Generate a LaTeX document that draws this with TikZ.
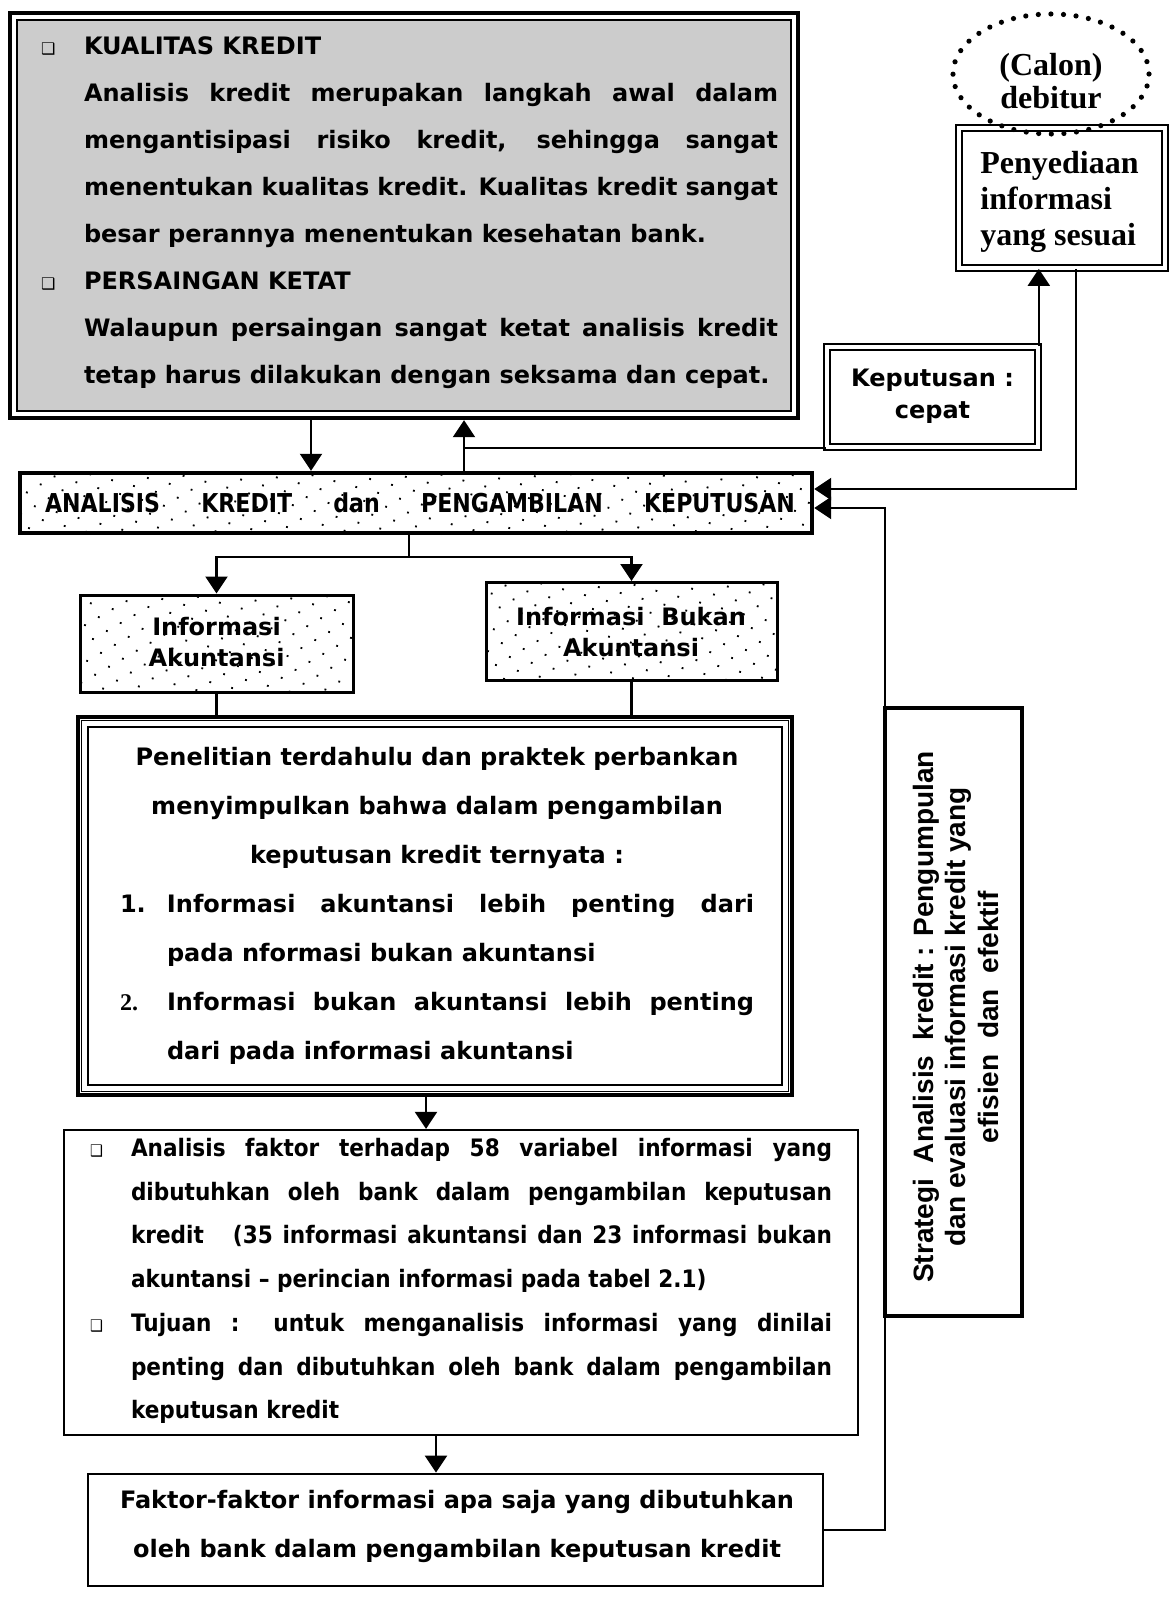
\documentclass[tikz,border=0pt]{standalone}
\usepackage{fontspec}
\setmainfont{DejaVu Sans}
\newfontfamily\tahc{DejaVu Sans}[FakeStretch=0.85]
\newfontfamily\tahn{DejaVu Sans}[FakeStretch=0.9]
\newfontfamily\arl{Liberation Sans}
\newfontfamily\tms{Liberation Serif}
\usetikzlibrary{arrows.meta,patterns.meta,shapes.geometric}
\newcommand\bul{{\fontsize{8pt}{8pt}\selectfont\mdseries ❑}}
\begin{document}
\begin{tikzpicture}[x=0.5pt,y=-0.5pt,
  font=\bfseries\fontsize{12pt}{14pt}\selectfont,
  conn/.style={line width=1.1pt},
  arr/.style={conn,-{Triangle[length=8.5pt,width=11pt]}},
  box/.style={rectangle,draw,inner sep=0pt},
  dotfill/.style={pattern={Dots[distance=8pt,radius=0.65pt,angle=30]}},
  txt/.style={inner sep=0pt,align=center}]
\fill[white] (0,0) rectangle (1172,1598);
\useasboundingbox (0,0) rectangle (1172,1598);

% ---------- boxes ----------
\node[box,line width=2.2pt,minimum width=394pt,minimum height=202.5pt] (top) at (404,215.5) {};
\draw[fill=black!20,line width=1pt] ([shift={(9,9)}]top.north west) rectangle ([shift={(-9,-9)}]top.south east);

\node[box,line width=2.2pt,minimum width=396pt,minimum height=30pt,dotfill] (ana) at (416,503) {};

\node[box,double,double distance=2pt,line width=0.8pt,minimum width=105.5pt,minimum height=50pt] (kep) at (932.5,397) {};

\node[box,double,double distance=2pt,line width=0.9pt,minimum width=103pt,minimum height=70pt] (peny) at (1062,198) {};

\node[ellipse,draw,line width=2.6pt,dash pattern=on 0pt off 6.3pt,line cap=round,minimum width=98pt,minimum height=60pt,inner sep=0pt] (deb) at (1051,74) {};

\node[box,line width=1.5pt,minimum width=136.5pt,minimum height=48.5pt,dotfill] (infoA) at (216.5,643.5) {};
\node[box,line width=1.5pt,minimum width=145.5pt,minimum height=49pt,dotfill] (infoB) at (631.5,631.5) {};

\node[box,line width=1.6pt,minimum width=357pt,minimum height=189pt] (pen) at (435,906) {};
\draw[line width=0.7pt] ([shift={(5,5)}]pen.north west) rectangle ([shift={(-5,-5)}]pen.south east);
\draw[line width=1pt] ([shift={(12,12)}]pen.north west) rectangle ([shift={(-12,-12)}]pen.south east);

\node[box,line width=1.1pt,minimum width=397pt,minimum height=152.5pt] (af) at (461,1282.5) {};

\node[box,line width=1.4pt,minimum width=367.5pt,minimum height=56pt] (fak) at (455.5,1530) {};

\node[box,line width=2.4pt,minimum width=68.5pt,minimum height=304pt] (str) at (953.5,1012) {};

% ---------- texts ----------
\node[txt] (toptxt) at (409.5,213) {\parbox{368.5pt}{\fontsize{12pt}{23.5pt}\selectfont
\makebox[21.5pt][l]{\bul}KUALITAS KREDIT\\
\hspace*{21.5pt}\makebox[347pt][s]{Analisis kredit merupakan langkah awal dalam}\\
\hspace*{21.5pt}\makebox[347pt][s]{mengantisipasi risiko kredit, sehingga sangat}\\
\hspace*{21.5pt}\makebox[347pt][s]{menentukan kualitas kredit. Kualitas kredit sangat}\\
\hspace*{21.5pt}besar perannya menentukan kesehatan bank.\\
\makebox[21.5pt][l]{\bul}PERSAINGAN KETAT\\
\hspace*{21.5pt}\makebox[347pt][s]{Walaupun persaingan sangat ketat analisis kredit}\\
\hspace*{21.5pt}tetap harus dilakukan dengan seksama dan cepat.}};

\node[txt] (anatxt) at (420,503) {\tahc\fontsize{13pt}{15pt}\selectfont\makebox[375pt][s]{ANALISIS\ \ KREDIT\ \ dan\ \ PENGAMBILAN\ \ KEPUTUSAN}};

\node[txt,font=\bfseries\fontsize{12pt}{16pt}\selectfont] (keptxt) at (932.5,396) {Keputusan :\\cepat};

\node[inner sep=0pt,align=left,anchor=west,font=\tms\bfseries\fontsize{16pt}{18pt}\selectfont] (penytxt) at (980,202) {Penyediaan\\informasi\\yang sesuai};

\node[txt,font=\tms\bfseries\fontsize{16pt}{16.5pt}\selectfont] (debtxt) at (1051,81) {(Calon)\\debitur};

\node[txt,font=\bfseries\fontsize{12pt}{15.5pt}\selectfont] (iatxt) at (216.5,642.5) {Informasi\\Akuntansi};
\node[txt,font=\bfseries\fontsize{12pt}{15.5pt}\selectfont] (ibtxt) at (631,632) {Informasi\ \ Bukan\\Akuntansi};

\node[txt] (pentxt) at (437,905.5) {\parbox{317pt}{\fontsize{12pt}{24.5pt}\selectfont
\makebox[317pt][c]{Penelitian terdahulu dan praktek perbankan}\\
\makebox[317pt][c]{menyimpulkan bahwa dalam pengambilan}\\
\makebox[317pt][c]{keputusan kredit ternyata :}\\
\makebox[23.5pt][l]{1.}\makebox[293.5pt][s]{Informasi akuntansi lebih penting dari}\\
\hspace*{23.5pt}pada nformasi bukan akuntansi\\
\makebox[23.5pt][l]{\tms 2.}\makebox[293.5pt][s]{Informasi bukan akuntansi lebih penting}\\
\hspace*{23.5pt}dari pada informasi akuntansi}};

\node[txt] (aftxt) at (461,1281) {\parbox{371pt}{\tahn\fontsize{12pt}{21.85pt}\selectfont
\makebox[20.5pt][l]{\bul}\makebox[350.5pt][s]{Analisis faktor terhadap 58 variabel informasi yang}\\
\hspace*{20.5pt}\makebox[350.5pt][s]{dibutuhkan oleh bank dalam pengambilan keputusan}\\
\hspace*{20.5pt}\makebox[350.5pt][s]{kredit\ \ \ (35 informasi akuntansi dan 23 informasi bukan}\\
\hspace*{20.5pt}akuntansi – perincian informasi pada tabel 2.1)\\
\makebox[20.5pt][l]{\bul}\makebox[350.5pt][s]{Tujuan\ : untuk menganalisis informasi yang dinilai}\\
\hspace*{20.5pt}\makebox[350.5pt][s]{penting dan dibutuhkan oleh bank dalam pengambilan}\\
\hspace*{20.5pt}keputusan kredit}};

\node[txt,font=\bfseries\fontsize{12pt}{24.5pt}\selectfont] (faktxt) at (457,1526.5) {Faktor-faktor informasi apa saja yang dibutuhkan\\oleh bank dalam pengambilan keputusan kredit};

\node[txt,rotate=90,font=\arl\bfseries\fontsize{14pt}{16.25pt}\selectfont] (strtxt) at (955.5,1017) {Strategi\ \ Analisis\ \ kredit : Pengumpulan\\dan evaluasi informasi kredit yang\\efisien\ \ dan\ \ efektif};

% ---------- connectors ----------
\coordinate (cd) at (311,0);
\coordinate (cu) at (464,0);
\draw[arr] (top.south -| cd) -- (ana.north -| cd);
\draw[arr] (ana.north -| cu) -- (top.south -| cu);
\draw[conn] (kep.south west) -- (kep.south west -| cu);
\draw[arr] (kep.north east) -- (kep.north east |- peny.south);

\coordinate (r1) at (1076,489);
\draw[arr] (peny.south -| r1) -- (r1) -- (ana.east |- r1);
\coordinate (r2) at (885,508);
\draw[arr] (fak.east) -- (fak.east -| r2) -- (r2) -- (ana.east |- r2);

\coordinate (br) at (409,557);
\draw[conn] (ana.south -| br) -- (br);
\draw[arr] (br) -| (infoA.north);
\draw[arr] (br) -| (infoB.north);
\draw[conn] (infoA.south) -- (infoA.south |- pen.north);
\draw[conn] (infoB.south) -- (infoB.south |- pen.north);

\coordinate (cm) at (426,0);
\draw[arr] (pen.south -| cm) -- (af.north -| cm);
\coordinate (cm2) at (436,0);
\draw[arr] (af.south -| cm2) -- (fak.north -| cm2);
\end{tikzpicture}
\end{document}
